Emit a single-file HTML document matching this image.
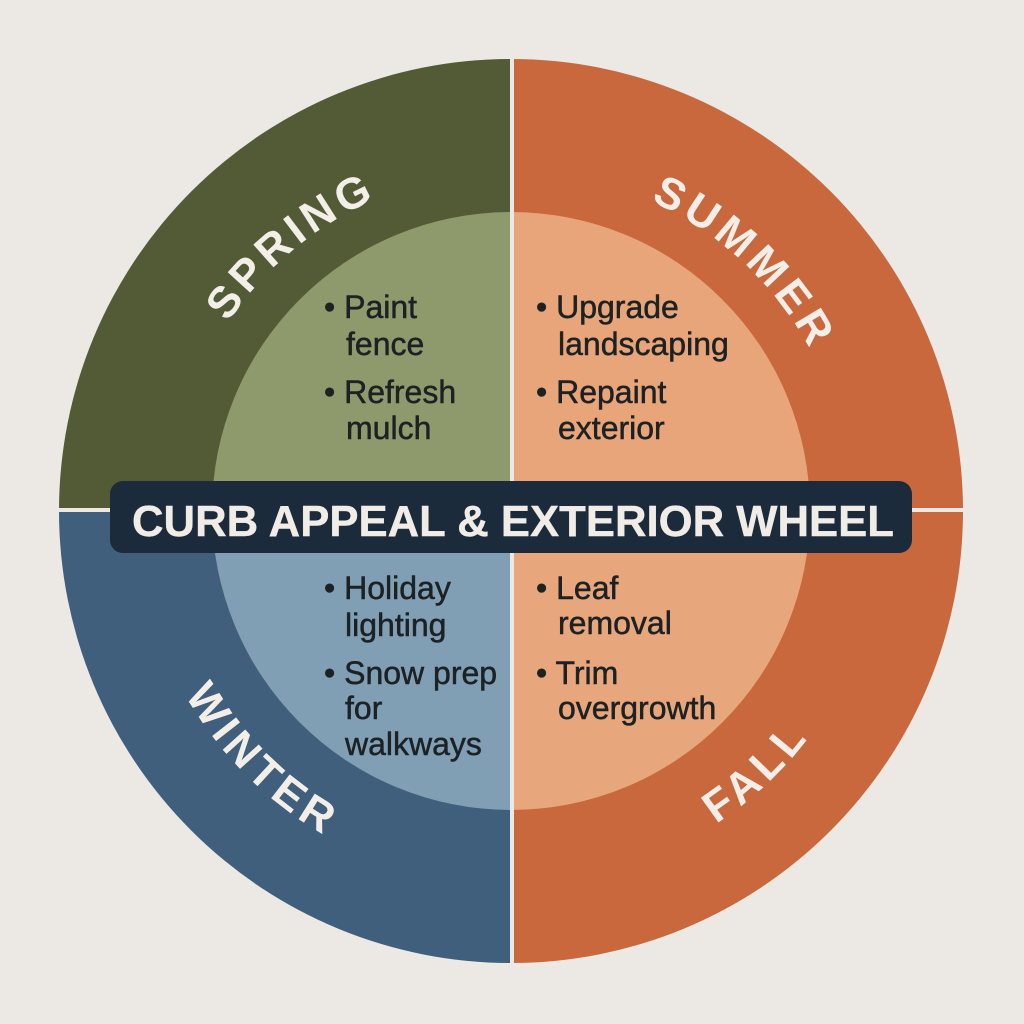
<!DOCTYPE html>
<html><head><meta charset="utf-8"><style>
html,body{margin:0;padding:0;background:#ece8e3;}
svg{display:block}
.lab{font-family:"Liberation Sans",sans-serif;font-weight:bold;font-size:44px;fill:#f3efe8;letter-spacing:5px}
.b{font-family:"Liberation Sans",sans-serif;font-size:32px;fill:#1c2224;stroke:#1c2224;stroke-width:0.5px}
</style></head><body>
<svg width="1024" height="1024" viewBox="0 0 1024 1024">
<rect width="1024" height="1024" fill="#ece8e3"/>
<defs>
<path id="top" d="M 171 511 A 340 340 0 0 1 851 511"/>
<path id="bot" d="M 137 511 A 374 374 0 0 0 885 511"/>
</defs>
<path d="M511 511 L59 511 A452 452 0 0 1 511 59 Z" fill="#535b36"/>
<path d="M511 511 L511 59 A452 452 0 0 1 963 511 Z" fill="#c9683c"/>
<path d="M511 511 L59 511 A452 452 0 0 0 511 963 Z" fill="#3f5f7c"/>
<path d="M511 511 L963 511 A452 452 0 0 1 511 963 Z" fill="#c9673d"/>
<path d="M511 511 L212 511 A299 299 0 0 1 511 212 Z" fill="#8e9a6c"/>
<path d="M511 511 L511 212 A299 299 0 0 1 810 511 Z" fill="#e8a57a"/>
<path d="M511 511 L212 511 A299 299 0 0 0 511 810 Z" fill="#809fb5"/>
<path d="M511 511 L810 511 A299 299 0 0 1 511 810 Z" fill="#e7a67b"/>
<rect x="510" y="50" width="4" height="925" fill="#ece8e3"/>
<rect x="50" y="508" width="925" height="4" fill="#ece8e3"/>
<text class="lab"><textPath href="#top" startOffset="28%" text-anchor="middle">SPRING</textPath></text>
<text class="lab"><textPath href="#top" startOffset="74%" text-anchor="middle">SUMMER</textPath></text>
<text class="lab"><textPath href="#bot" startOffset="25%" text-anchor="middle">WINTER</textPath></text>
<text class="lab"><textPath href="#bot" startOffset="74%" text-anchor="middle">FALL</textPath></text>
<g class="b">
<text x="324" y="318">• Paint</text><text x="346" y="355">fence</text>
<text x="324" y="403">• Refresh</text><text x="346" y="439">mulch</text>
<text x="536" y="318">• Upgrade</text><text x="558" y="355">landscaping</text>
<text x="536" y="403">• Repaint</text><text x="558" y="439">exterior</text>
<text x="324" y="599">• Holiday</text><text x="345" y="636">lighting</text>
<text x="324" y="684">• Snow prep</text><text x="345" y="719">for</text><text x="345" y="755">walkways</text>
<text x="536" y="599">• Leaf</text><text x="558" y="634">removal</text>
<text x="536" y="684">• Trim</text><text x="558" y="719">overgrowth</text>
</g>
<rect x="110" y="481" width="802" height="72" rx="13" fill="#1b2b3c"/>
<text x="513" y="536" text-anchor="middle" textLength="762" lengthAdjust="spacingAndGlyphs" style="font-family:'Liberation Sans',sans-serif;font-weight:bold;font-size:44px;fill:#f1ede6;stroke:#f1ede6;stroke-width:0.4px">CURB APPEAL &amp; EXTERIOR WHEEL</text>
</svg>
</body></html>
